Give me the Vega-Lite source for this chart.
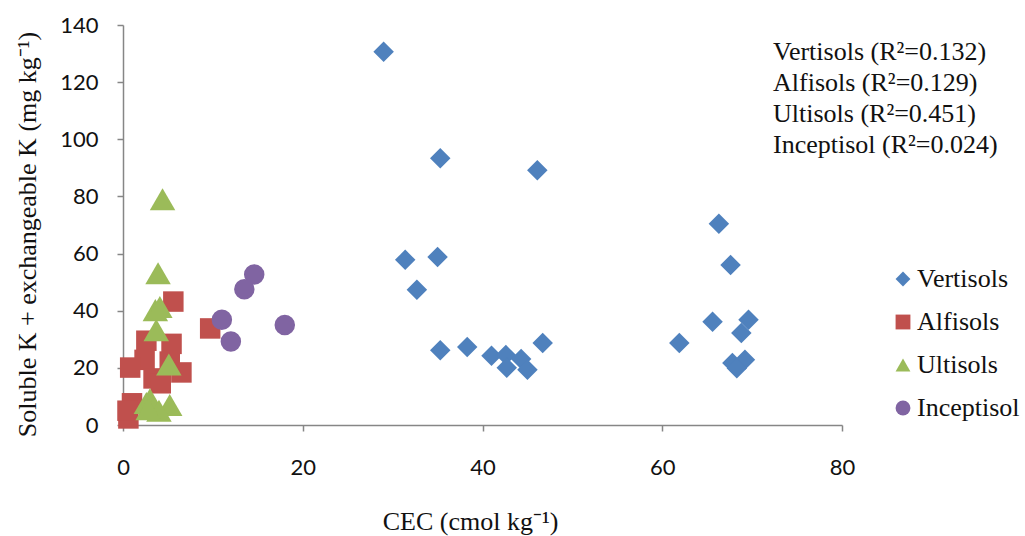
{
  "$schema": "https://vega.github.io/schema/vega-lite/v6.json",
  "autosize": "none",
  "padding": {"left": 123, "top": 25, "right": 183, "bottom": 111},
  "width": 719,
  "height": 400,
  "background": "white",
  "config": {"view": {"stroke": null}},
  "title": {
    "text": ["Vertisols (R²=0.132)", "Alfisols (R²=0.129)", "Ultisols (R²=0.451)", "Inceptisol (R²=0.024)"],
    "anchor": "start",
    "frame": "group",
    "orient": "top",
    "align": "left",
    "baseline": "top",
    "offset": 0,
    "dx": 650,
    "dy": 144,
    "font": "Liberation Serif",
    "fontSize": 26,
    "fontWeight": "normal",
    "lineHeight": 31,
    "color": "#111111"
  },
  "data": {
    "values": [
      {"soil": "Vertisols", "cec": 29.0, "k": 130.6},
      {"soil": "Vertisols", "cec": 35.3, "k": 93.4},
      {"soil": "Vertisols", "cec": 46.1, "k": 89.2},
      {"soil": "Vertisols", "cec": 31.4, "k": 57.8},
      {"soil": "Vertisols", "cec": 35.0, "k": 58.8},
      {"soil": "Vertisols", "cec": 32.7, "k": 47.3},
      {"soil": "Vertisols", "cec": 35.3, "k": 26.2},
      {"soil": "Vertisols", "cec": 38.3, "k": 27.3},
      {"soil": "Vertisols", "cec": 41.0, "k": 24.2},
      {"soil": "Vertisols", "cec": 42.6, "k": 24.5},
      {"soil": "Vertisols", "cec": 44.3, "k": 23.1},
      {"soil": "Vertisols", "cec": 42.7, "k": 20.0},
      {"soil": "Vertisols", "cec": 45.0, "k": 19.3},
      {"soil": "Vertisols", "cec": 46.7, "k": 28.7},
      {"soil": "Vertisols", "cec": 66.3, "k": 70.4},
      {"soil": "Vertisols", "cec": 67.6, "k": 56.0},
      {"soil": "Vertisols", "cec": 65.6, "k": 36.1},
      {"soil": "Vertisols", "cec": 61.9, "k": 28.7},
      {"soil": "Vertisols", "cec": 69.6, "k": 36.8},
      {"soil": "Vertisols", "cec": 68.8, "k": 32.2},
      {"soil": "Vertisols", "cec": 67.8, "k": 21.7},
      {"soil": "Vertisols", "cec": 69.2, "k": 22.8},
      {"soil": "Vertisols", "cec": 68.3, "k": 19.9},
      {"soil": "Alfisols", "cec": 5.6, "k": 43.2},
      {"soil": "Alfisols", "cec": 9.7, "k": 33.8},
      {"soil": "Alfisols", "cec": 2.6, "k": 29.5},
      {"soil": "Alfisols", "cec": 5.4, "k": 28.4},
      {"soil": "Alfisols", "cec": 2.4, "k": 22.8},
      {"soil": "Alfisols", "cec": 5.2, "k": 22.2},
      {"soil": "Alfisols", "cec": 0.8, "k": 20.1},
      {"soil": "Alfisols", "cec": 6.5, "k": 18.4},
      {"soil": "Alfisols", "cec": 3.4, "k": 16.3},
      {"soil": "Alfisols", "cec": 4.2, "k": 14.6},
      {"soil": "Alfisols", "cec": 1.0, "k": 7.6},
      {"soil": "Alfisols", "cec": 0.6, "k": 2.3},
      {"soil": "Alfisols", "cec": 0.5, "k": 5.0},
      {"soil": "Ultisols", "cec": 4.4, "k": 79.0},
      {"soil": "Ultisols", "cec": 3.9, "k": 53.1},
      {"soil": "Ultisols", "cec": 3.6, "k": 40.2},
      {"soil": "Ultisols", "cec": 4.1, "k": 41.3},
      {"soil": "Ultisols", "cec": 3.7, "k": 33.2},
      {"soil": "Ultisols", "cec": 5.1, "k": 21.2},
      {"soil": "Ultisols", "cec": 5.2, "k": 7.0},
      {"soil": "Ultisols", "cec": 2.6, "k": 7.7},
      {"soil": "Ultisols", "cec": 3.0, "k": 9.0},
      {"soil": "Ultisols", "cec": 3.4, "k": 6.0},
      {"soil": "Ultisols", "cec": 4.0, "k": 5.0},
      {"soil": "Ultisols", "cec": 2.8, "k": 5.5},
      {"soil": "Inceptisol", "cec": 14.6, "k": 52.7},
      {"soil": "Inceptisol", "cec": 13.5, "k": 47.5},
      {"soil": "Inceptisol", "cec": 11.0, "k": 36.8},
      {"soil": "Inceptisol", "cec": 12.0, "k": 29.2},
      {"soil": "Inceptisol", "cec": 18.0, "k": 35.0}
    ]
  },
  "encoding": {
    "x": {
      "field": "cec",
      "type": "quantitative",
      "scale": {"domain": [0, 80], "nice": false, "zero": true},
      "axis": {
        "values": [0, 20, 40, 60, 80],
        "grid": false,
        "title": "CEC (cmol kg⁻¹)",
        "titleFont": "Liberation Serif",
        "titleFontSize": 26,
        "titleFontWeight": "normal",
        "titleColor": "#111111",
        "titleX": 347,
        "titleY": 96,
        "titleAlign": "center",
        "titleBaseline": "middle",
        "labelFont": "Lato",
        "labelFontSize": 22,
        "labelColor": "#111111",
        "labelPadding": 26,
        "labelBaseline": "top",
        "labelFlush": false,
        "domainColor": "#868686",
        "domainWidth": 1.5,
        "tickColor": "#868686",
        "tickSize": 6,
        "tickWidth": 1.5
      }
    },
    "y": {
      "field": "k",
      "type": "quantitative",
      "scale": {"domain": [0, 140], "nice": false},
      "axis": {
        "values": [0, 20, 40, 60, 80, 100, 120, 140],
        "grid": false,
        "title": "Soluble K + exchangeable K (mg kg⁻¹)",
        "titleFont": "Liberation Serif",
        "titleFontSize": 26,
        "titleFontWeight": "normal",
        "titleColor": "#111111",
        "titleAngle": -90,
        "titleX": -96,
        "titleY": 209,
        "titleAlign": "center",
        "titleBaseline": "middle",
        "labelFont": "Lato",
        "labelFontSize": 22,
        "labelColor": "#111111",
        "labelPadding": 19,
        "labelFlush": false,
        "domainColor": "#868686",
        "domainWidth": 1.5,
        "tickColor": "#868686",
        "tickSize": 6,
        "tickWidth": 1.5
      }
    },
    "color": {
      "field": "soil",
      "type": "nominal",
      "scale": {
        "domain": ["Vertisols", "Alfisols", "Ultisols", "Inceptisol"],
        "range": ["#4F81BD", "#C0504D", "#9BBB59", "#8064A2"]
      },
      "legend": {
        "title": null,
        "orient": "none",
        "legendX": 767,
        "legendY": 241,
        "padding": 0,
        "labelFont": "Liberation Serif",
        "labelFontSize": 26,
        "labelColor": "#111111",
        "labelOffset": 1,
        "labelLimit": 300,
        "rowPadding": 17,
        "symbolSize": 220,
        "symbolOpacity": 1
      }
    },
    "shape": {
      "field": "soil",
      "type": "nominal",
      "scale": {
        "domain": ["Vertisols", "Alfisols", "Ultisols", "Inceptisol"],
        "range": ["diamond", "square", "triangle-up", "circle"]
      },
      "legend": null
    }
  },
  "layer": [
    {
      "transform": [{"filter": "datum.soil !== 'Ultisols'"}],
      "mark": {"type": "point", "filled": true, "opacity": 1, "size": 420}
    },
    {
      "transform": [{"filter": "datum.soil === 'Ultisols'"}],
      "mark": {"type": "point", "filled": true, "opacity": 1, "size": 650}
    }
  ]
}
